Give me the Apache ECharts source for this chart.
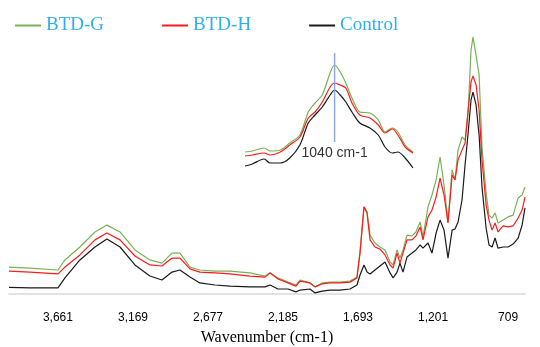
<!DOCTYPE html>
<html>
<head>
<meta charset="utf-8">
<script src="https://cdn.jsdelivr.net/npm/echarts@6/dist/echarts.min.js"></script>
<style>
  html, body { margin: 0; padding: 0; background: #fff; }
  #chart { width: 540px; height: 347px; }
</style>
</head>
<body>
<div id="chart"></div>
<script>
// FTIR spectra, wavenumber in cm-1
const wavenumbers = [3982, 3845, 3661, 3615, 3517, 3418, 3340, 3254, 3156, 3058, 2979, 2913, 2861, 2795, 2730, 2631, 2533, 2402, 2303, 2270, 2218, 2152, 2100, 2073, 2008, 1975, 1929, 1877, 1811, 1746, 1700, 1680, 1654, 1634, 1614, 1582, 1549, 1516, 1483, 1463, 1437, 1418, 1398, 1372, 1339, 1313, 1286, 1267, 1234, 1208, 1181, 1155, 1129, 1103, 1076, 1057, 1037, 1011, 991, 971, 952, 939, 919, 899, 880, 853, 834, 814, 794, 775, 742, 709, 676, 643, 617, 598];
const btdG = [10.2, 9.8, 9.1, 12.9, 17.8, 23.5, 26.1, 23.5, 16.7, 12.9, 11.7, 15.5, 15.5, 10.2, 9.1, 8.7, 8.7, 8.0, 6.8, 8.0, 6.1, 4.5, 3.4, 5.3, 4.2, 2.7, 4.2, 4.5, 4.5, 4.9, 6.4, 15.9, 33.0, 31.1, 22.3, 19.3, 17.8, 16.7, 12.1, 11.0, 16.7, 13.6, 16.7, 22.3, 22.0, 23.5, 27.3, 21.6, 33.0, 37.5, 43.2, 51.9, 41.3, 27.3, 47.0, 43.2, 54.5, 59.5, 58.3, 68.6, 92.4, 97.3, 90.5, 83.0, 55.7, 38.3, 29.9, 28.8, 30.7, 26.9, 28.0, 29.2, 29.9, 36.4, 37.5, 40.5];
const btdH = [8.7, 8.3, 7.6, 10.2, 14.8, 20.5, 23.1, 20.5, 14.4, 11.0, 10.6, 13.6, 13.6, 9.5, 8.3, 8.0, 7.6, 6.8, 6.4, 8.0, 5.7, 4.2, 3.0, 4.9, 4.2, 2.7, 3.8, 4.2, 4.2, 4.5, 6.1, 15.5, 33.0, 30.7, 20.5, 17.8, 17.0, 14.8, 11.0, 9.8, 15.5, 11.7, 15.5, 20.5, 20.5, 22.0, 25.4, 20.5, 29.2, 31.8, 36.7, 43.9, 37.5, 26.9, 45.1, 43.2, 50.8, 54.5, 57.2, 69.7, 80.3, 82.6, 79.2, 69.7, 50.8, 33.7, 28.0, 24.2, 26.9, 23.5, 25.8, 25.4, 25.8, 28.8, 31.8, 36.7];
const control = [2.5, 2.3, 2.3, 6.1, 12.9, 17.8, 20.8, 17.8, 11.0, 6.8, 5.3, 8.3, 9.1, 6.4, 4.2, 3.4, 3.0, 2.7, 2.7, 3.4, 1.9, 1.9, 0.8, 1.5, 1.9, 0.4, 1.1, 1.5, 1.5, 1.9, 3.4, 7.2, 11.0, 8.3, 7.6, 9.1, 10.6, 12.1, 8.0, 6.1, 8.3, 11.7, 8.3, 14.0, 15.5, 16.7, 18.6, 17.4, 19.3, 15.5, 23.1, 28.0, 24.2, 13.6, 24.2, 24.6, 27.3, 35.6, 48.9, 61.0, 73.5, 76.5, 71.6, 60.2, 40.5, 25.0, 18.6, 17.8, 21.2, 17.4, 17.8, 17.8, 18.9, 21.2, 26.1, 32.6];

// inset: close-up of the 1040 cm-1 band
const insetWavenumbers = [1200, 1187, 1166, 1155, 1137, 1120, 1102, 1087, 1075, 1062, 1048, 1040, 1030, 1020, 1009, 995, 977, 962, 950, 937, 927, 914, 900];
const insetG = [18.4, 19.2, 21.6, 19.2, 20.0, 25.6, 32.0, 50.4, 57.6, 64.0, 81.6, 88.0, 82.4, 73.6, 61.6, 50.4, 49.6, 44.0, 34.4, 37.6, 34.4, 24.0, 18.4];
const insetH = [15.2, 16.0, 17.6, 16.0, 18.4, 24.0, 30.4, 45.6, 50.4, 58.4, 70.4, 73.6, 72.0, 69.6, 57.6, 48.0, 45.6, 40.0, 33.6, 36.8, 32.0, 22.4, 17.6];
const insetControl = [7.2, 8.8, 12.8, 9.6, 9.6, 13.6, 24.0, 41.6, 48.0, 54.4, 64.0, 68.0, 64.0, 58.4, 50.4, 41.6, 37.6, 32.0, 22.4, 17.6, 18.4, 13.6, 5.6];
const peakMarker = [[1040, 26.4], [1040, 97.6]];

const xTicks = [3661, 3169, 2677, 2185, 1693, 1201, 709];

const colors = { g: "#77b255", h: "#ff1a1a", c: "#1a1a1a" };

const zip = (xs, ys) => xs.map((x, i) => [x, ys[i]]);

const chart = echarts.init(document.getElementById("chart"));

const lineStyle = (c) => ({ color: c, width: 1.2 });

const option = {
  animation: false,
  legend: {
    left: 10,
    top: 11,
    itemGap: 58,
    itemWidth: 26,
    itemHeight: 2,
    itemTextGap: 5,
    icon: "rect",
    data: ["BTD-G", "BTD-H", "Control"],
    textStyle: {
      color: "#2eb0ee",
      fontSize: 19,
      fontFamily: "Liberation Serif, Times New Roman, serif",
    },
  },
  grid: [
    { left: 9, right: 15, top: 30, bottom: 53, containLabel: false, outerBoundsMode: "none" },
    { left: 245, top: 50, width: 168, height: 125, containLabel: false, outerBoundsMode: "none" },
  ],
  xAxis: [
    {
      type: "value",
      gridIndex: 0,
      inverse: true,
      min: 598,
      max: 3982,
      name: "Wavenumber (cm-1)",
      nameLocation: "middle",
      nameGap: 36,
      nameTextStyle: {
        color: "#000",
        fontSize: 16,
        fontFamily: "Liberation Serif, Times New Roman, serif",
      },
      axisLine: { show: true, onZero: false, lineStyle: { color: "#d9d9d9", width: 1.5 } },
      axisTick: { show: false },
      splitLine: { show: false },
      axisLabel: {
        customValues: xTicks,
        color: "#000",
        fontSize: 12,
        fontFamily: "Liberation Sans, Arial, sans-serif",
        margin: 18,
        formatter: (v) => v.toLocaleString("en-US"),
      },
    },
    {
      type: "value",
      gridIndex: 1,
      inverse: true,
      min: 900,
      max: 1200,
      show: false,
    },
  ],
  yAxis: [
    { type: "value", gridIndex: 0, min: 0, max: 100, show: false },
    { type: "value", gridIndex: 1, min: 0, max: 100, show: false },
  ],
  series: [
    {
      name: "BTD-G", type: "line", xAxisIndex: 0, yAxisIndex: 0,
      data: zip(wavenumbers, btdG), showSymbol: false, lineStyle: lineStyle(colors.g), itemStyle: { color: colors.g },
    },
    {
      name: "BTD-H", type: "line", xAxisIndex: 0, yAxisIndex: 0,
      data: zip(wavenumbers, btdH), showSymbol: false, lineStyle: lineStyle(colors.h), itemStyle: { color: colors.h },
    },
    {
      name: "Control", type: "line", xAxisIndex: 0, yAxisIndex: 0,
      data: zip(wavenumbers, control), showSymbol: false, lineStyle: lineStyle(colors.c), itemStyle: { color: colors.c },
    },
    // inset
    {
      name: "BTD-G", type: "line", xAxisIndex: 1, yAxisIndex: 1, smooth: 0.3,
      data: zip(insetWavenumbers, insetG), showSymbol: false, lineStyle: lineStyle(colors.g), itemStyle: { color: colors.g },
    },
    {
      name: "BTD-H", type: "line", xAxisIndex: 1, yAxisIndex: 1, smooth: 0.3,
      data: zip(insetWavenumbers, insetH), showSymbol: false, lineStyle: lineStyle(colors.h), itemStyle: { color: colors.h },
    },
    {
      name: "Control", type: "line", xAxisIndex: 1, yAxisIndex: 1, smooth: 0.3,
      data: zip(insetWavenumbers, insetControl), showSymbol: false, lineStyle: lineStyle(colors.c), itemStyle: { color: colors.c },
    },
    {
      name: "peak", type: "line", xAxisIndex: 1, yAxisIndex: 1,
      data: peakMarker, showSymbol: false, symbol: "none",
      lineStyle: { color: "#8faadc", width: 1.5 },
      markPoint: {
        symbol: "circle",
        symbolSize: 0,
        data: [{ coord: peakMarker[0] }],
        label: {
          show: true,
          position: "bottom",
          distance: 4,
          formatter: "1040 cm-1",
          color: "#333",
          fontSize: 14,
          fontFamily: "Liberation Sans, Arial, sans-serif",
        },
      },
    },
  ],
};

chart.setOption(option);
</script>
</body>
</html>
